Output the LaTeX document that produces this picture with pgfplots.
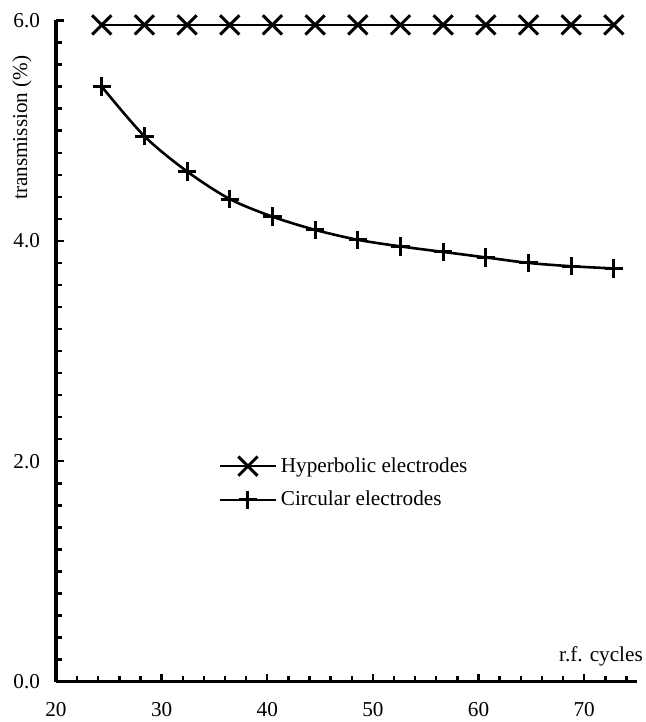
\documentclass[border=0pt]{standalone}
\usepackage{pgfplots}
\pgfplotsset{compat=1.18}
\usepackage{fontspec}
\setmainfont{Liberation Serif}
\newcommand{\tf}{\fontsize{10.6}{12.5}\selectfont}
\begin{document}
\begin{tikzpicture}
\useasboundingbox (-28pt,-20.15pt) rectangle (294.5pt,340.85pt);
\begin{axis}[
  at={(0,0)}, anchor=south west,
  scale only axis, width=290.5pt, height=330.6pt,
  xmin=20, xmax=75, ymin=0, ymax=6,
  axis lines*=left,
  axis line style={line width=1.6pt},
  tick align=inside,
  xtick={20,30,...,70},
  minor xtick={22,24,26,28,32,34,36,38,42,44,46,48,52,54,56,58,62,64,66,68,72,74},
  ytick={0,2,4,6},
  minor ytick={0.2,0.4,...,1.9,2.2,2.4,...,3.9,4.2,4.4,...,5.9},
  major tick length=4pt, minor tick length=3pt,
  tick style={line width=1.2pt, black},
  /pgf/number format/assume math mode=true,
  every tick label/.append style={font=\tf},
  yticklabel style={/pgf/number format/fixed, /pgf/number format/fixed zerofill, /pgf/number format/precision=1, xshift=-4.5pt},
  xticklabel style={yshift=-6.8pt},
  xlabel={r.f. cycles},
  xlabel style={at={(axis description cs:0.938,0.038)}, anchor=center, font=\tf},
  ylabel={transmission (\%)},
  ylabel style={at={(axis description cs:-0.0585,0.838)}, anchor=center, font=\tf},
  clip=false,
  legend image code/.code={\draw[mark repeat=2,mark phase=2] plot coordinates {(0cm,0cm)(0.485cm,0cm)(0.97cm,0cm)};},
  legend style={at={(axis description cs:0.28,0.3005)}, anchor=west, draw=none, fill=none, inner sep=0pt, row sep=4pt, font=\tf},
  legend cell align=left,
]
\addplot[black, line width=1.3pt, mark=x, mark size=6.8pt, mark options={line width=1.5pt}] coordinates {
(24.33,5.96)(28.37,5.96)(32.41,5.96)(36.45,5.96)(40.49,5.96)(44.53,5.96)(48.57,5.96)(52.61,5.96)(56.65,5.96)(60.69,5.96)(64.73,5.96)(68.77,5.96)(72.81,5.96)};
\addlegendentry{Hyperbolic electrodes}
\addplot[black, line width=1.3pt, smooth, mark=+, mark size=4.6pt, mark options={line width=1.5pt}] coordinates {
(24.33,5.40)(28.37,4.95)(32.41,4.63)(36.45,4.38)(40.49,4.22)(44.53,4.10)(48.57,4.01)(52.61,3.95)(56.65,3.90)(60.69,3.85)(64.73,3.80)(68.77,3.77)(72.81,3.75)};
\addlegendentry{Circular electrodes}
\end{axis}
\end{tikzpicture}
\end{document}
